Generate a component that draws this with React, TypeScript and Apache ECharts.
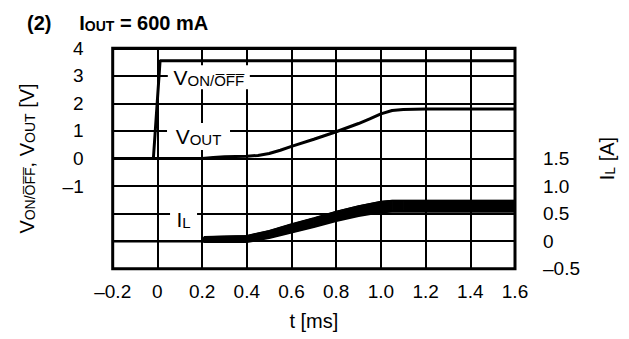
import React, { useEffect, useRef } from 'react';
import * as echarts from 'echarts';

// ---- data ----
const xTickLabels = ['–0.2', '0', '0.2', '0.4', '0.6', '0.8', '1.0', '1.2', '1.4', '1.6'];
const leftTickLabels = ['4', '3', '2', '1', '0', '–1'];
const rightTickLabels = ['1.5', '1.0', '0.5', '0', '–0.5'];

const vonT = [-0.2, -0.018, 0.012, 1.6];
const vonV = [0, 0, 3.55, 3.55];

const voutT = [-0.2, 0.2, 0.25, 0.3, 0.4, 0.45, 0.5, 0.55, 0.6, 0.7, 0.8, 0.9, 0.95, 1.0, 1.05, 1.1, 1.2, 1.6];
const voutV = [0, 0, 0.04, 0.06, 0.08, 0.11, 0.18, 0.3, 0.44, 0.7, 0.97, 1.27, 1.44, 1.62, 1.74, 1.78, 1.8, 1.8];

const ilT = [-0.2, 0.2, 0.21, 0.3, 0.4, 0.5, 0.6, 0.7, 0.8, 0.9, 1.0, 1.05, 1.1, 1.6];
const ilLow = [0, 0, -0.01, -0.01, -0.01, 0.06, 0.16, 0.26, 0.37, 0.46, 0.53, 0.54, 0.54, 0.54];
const ilHigh = [0, 0, 0.08, 0.09, 0.1, 0.19, 0.31, 0.42, 0.54, 0.64, 0.72, 0.74, 0.74, 0.74];

const F = '"Liberation Sans", Arial, sans-serif';
const OFF = 'O\u0305F\u0305F\u0305';

export default function App() {
  const ref = useRef<HTMLDivElement>(null);
  useEffect(() => {
    if (!ref.current) return;
    const chart = echarts.init(ref.current, null, { renderer: 'svg' });
    const big = (fs: number) => ({ fontSize: fs, fontFamily: F, color: '#000', lineHeight: fs, verticalAlign: 'bottom' as const });
    const richLabel = { v: big(21), s: big(15) };
    const option: any = {
      animation: false,
      backgroundColor: '#fff',
      title: {
        left: 22,
        top: 8,
        text: '{b|(2)     I}{s|OUT}{b| = 600 mA}',
        textStyle: {
          rich: {
            b: { fontSize: 20, fontWeight: 'bold', fontFamily: F, color: '#000', lineHeight: 20, verticalAlign: 'bottom' },
            s: { fontSize: 14, fontWeight: 'bold', fontFamily: F, color: '#000', lineHeight: 14, verticalAlign: 'bottom' },
          },
        },
      },
      grid: {
        left: 112.7,
        right: 114,
        top: 48.3,
        bottom: 70.3,
        show: true,
        borderColor: '#000',
        borderWidth: 3,
        backgroundColor: 'transparent',
      },
      xAxis: {
        type: 'value',
        min: -0.2,
        max: 1.6,
        interval: 0.2,
        axisLine: { show: false },
        axisTick: { show: false },
        splitLine: { show: true, lineStyle: { color: '#000', width: 2 } },
        axisLabel: {
          margin: 13,
          fontSize: 19,
          fontFamily: F,
          color: '#000',
          formatter: (v: number) => xTickLabels[Math.round((v + 0.2) / 0.2)] ?? '',
        },
        name: 't [ms]',
        nameLocation: 'middle',
        nameGap: 42,
        nameTextStyle: { fontSize: 20, fontFamily: F, color: '#000' },
      },
      yAxis: [
        {
          type: 'value',
          min: -4,
          max: 4,
          interval: 1,
          axisLine: { show: false },
          axisTick: { show: false },
          splitLine: { show: true, lineStyle: { color: '#000', width: 2 } },
          axisLabel: {
            margin: 29,
            fontSize: 19,
            fontFamily: F,
            color: '#000',
            formatter: (v: number) => leftTickLabels[Math.round(4 - v)] ?? '',
          },
          name: `{v|V}{s|ON/${OFF}}{v|, V}{s|OUT}{v| [V]}`,
          nameLocation: 'middle',
          nameRotate: 90,
          nameGap: 76,
          nameTextStyle: { rich: { v: big(20), s: big(14) } },
        },
        {
          type: 'value',
          min: -0.5,
          max: 3.5,
          interval: 0.5,
          position: 'right',
          axisLine: { show: false },
          axisTick: { show: false },
          splitLine: { show: false },
          axisLabel: {
            margin: 28,
            fontSize: 19,
            fontFamily: F,
            color: '#000',
            formatter: (v: number) => rightTickLabels[Math.round((1.5 - v) / 0.5)] ?? '',
          },
          name: '{v|I}{s|L}{v| [A]}',
          nameLocation: 'middle',
          nameRotate: 90,
          nameGap: 82,
          nameTextStyle: { rich: { v: big(20), s: big(14) } },
        },
      ],
      series: [
        {
          type: 'custom',
          name: 'IL ripple band',
          yAxisIndex: 1,
          data: ilT.map((t, i) => [t, ilLow[i], ilHigh[i]]),
          encode: { x: 0, y: [1, 2] },
          renderItem: (params: any, api: any) => {
            const i = params.dataIndex;
            if (i >= ilT.length - 1) return { type: 'group', children: [] };
            const pts = [
              api.coord([ilT[i], ilLow[i]]),
              api.coord([ilT[i + 1], ilLow[i + 1]]),
              api.coord([ilT[i + 1], ilHigh[i + 1]]),
              api.coord([ilT[i], ilHigh[i]]),
            ];
            return {
              type: 'polygon',
              shape: { points: pts },
              style: { fill: '#000', stroke: '#000', lineWidth: 1 },
            };
          },
        },
        {
          type: 'line',
          name: 'IL low',
          yAxisIndex: 1,
          symbol: 'none',
          data: ilT.map((t, i) => [t, ilLow[i]]),
          lineStyle: { color: '#000', width: 2.5 },
        },
        {
          type: 'line',
          name: 'IL high',
          yAxisIndex: 1,
          symbol: 'none',
          data: ilT.map((t, i) => [t, ilHigh[i]]),
          lineStyle: { color: '#000', width: 1.5 },
        },
        {
          type: 'line',
          name: 'VOUT',
          symbol: 'none',
          data: voutT.map((t, i) => [t, voutV[i]]),
          lineStyle: { color: '#000', width: 3 },
        },
        {
          type: 'line',
          name: 'VON/OFF',
          symbol: 'none',
          data: vonT.map((t, i) => [t, vonV[i]]),
          lineStyle: { color: '#000', width: 3 },
          markPoint: {
            symbol: 'rect',
            itemStyle: { color: '#fff' },
            label: { show: true, position: 'inside', rich: richLabel },
            data: [
              { coord: [0.23, 2.95], symbolSize: [82, 24], label: { formatter: `{v|V}{s|ON/${OFF}}` } },
              { coord: [0.184, 0.8], symbolSize: [63, 27], label: { formatter: '{v|V}{s|OUT}' } },
              { coord: [0.117, -2.23], symbolSize: [27, 28], label: { formatter: '{v|I}{s|L}' } },
            ],
          },
        },
      ],
    };
    chart.setOption(option);
    return () => chart.dispose();
  }, []);
  return (
    <div
      ref={ref}
      style={{ position: 'fixed', left: 0, top: 0, width: 629, height: 339, background: '#fff' }}
    />
  );
}
